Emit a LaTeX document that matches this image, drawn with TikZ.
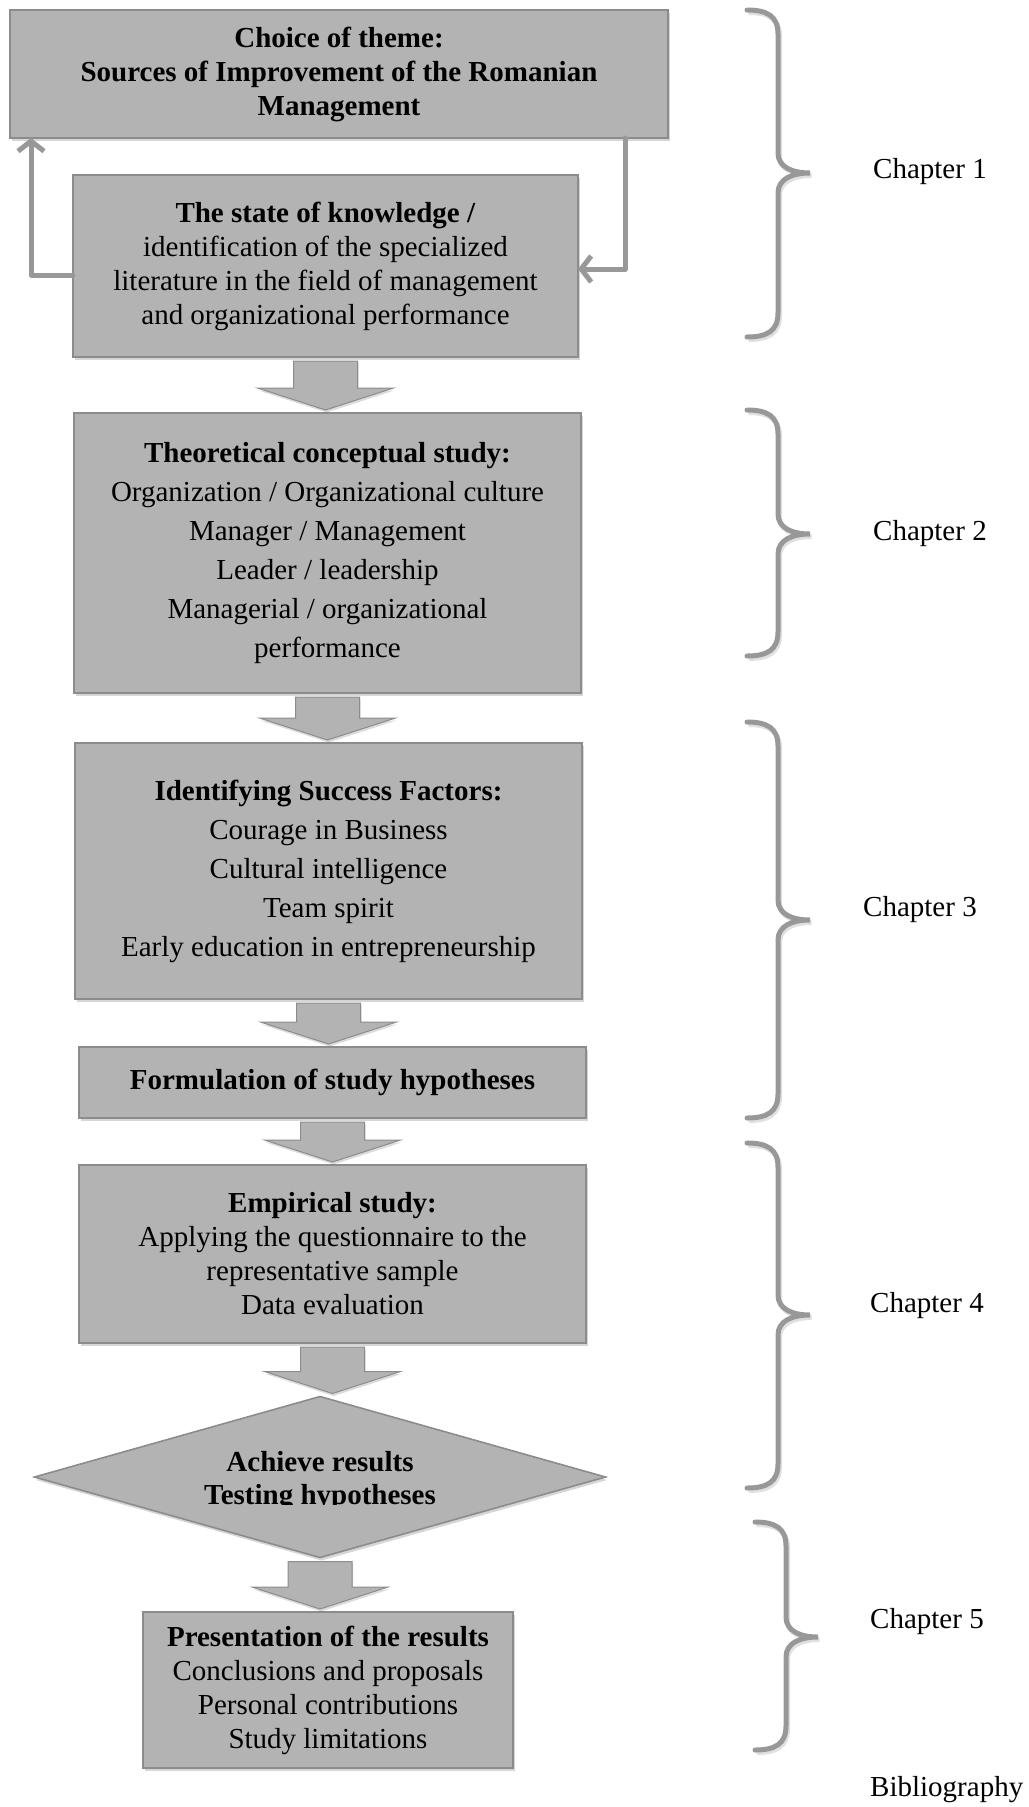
\documentclass[tikz,border=0pt]{standalone}
\usepackage{fontspec}
\setmainfont{Liberation Serif}
\usetikzlibrary{calc,arrows.meta,shapes.geometric,shadows}
\definecolor{stagefill}{RGB}{179,179,179}
\definecolor{stageline}{RGB}{140,140,140}
\definecolor{bracegray}{RGB}{152,152,152}
\tikzset{
  stagebox/.style={rectangle, draw=stageline, fill=stagefill, line width=1.6pt,
                   inner sep=0pt, outer sep=0pt, align=center,
                   font=\fontsize{29}{34}\selectfont,
                   drop shadow={shadow xshift=1.5pt, shadow yshift=-3pt,
                                fill=black, opacity=0.16}},
  stageboxwide/.style={stagebox, font=\fontsize{29}{39}\selectfont},
  stagediamond/.style={stagebox, diamond, aspect=3.5},
  stagetext/.style={inner sep=0pt, align=center, font=\fontsize{29}{33}\selectfont},
  flowarrow/.style={draw=stageline, fill=stagefill, line width=1pt, line join=miter,
                    drop shadow={shadow xshift=1pt, shadow yshift=-2.5pt,
                                 fill=black, opacity=0.14},
                    to path={let \p1=(\tikztostart.south), \p2=(\tikztotarget.north) in
                      (\x1-32pt,\y1-4pt) -- (\x1+32pt,\y1-4pt) -- (\x1+32pt,\y2+25pt)
                      -- (\x1+68pt,\y2+25pt) -- (\x1,\y2+3pt) -- (\x1-68pt,\y2+25pt)
                      -- (\x1-32pt,\y2+25pt) -- cycle}},
  loopline/.style={draw=bracegray, line width=5pt, line cap=round, line join=round,
                   -{Straight Barb[length=10pt,width=26pt]}},
  bracestroke/.style={draw=bracegray, line width=5pt, line cap=round,
                      preaction={draw=black!12, line width=5pt,
                                 transform canvas={shift={(1.5pt,-2.5pt)}}}},
  chapter/.style={anchor=west, inner sep=0pt, font=\fontsize{29}{34}\selectfont},
}

\begin{document}
\begin{tikzpicture}[x=1pt, y=-1pt]
    \useasboundingbox (0,0) rectangle (1028,1807);
    \node[stagebox, minimum width=658, minimum height=128] (theme) at (339,74)
        {\textbf{Choice of theme:}\\\textbf{Sources of Improvement of the Romanian}\\\textbf{Management}};
    \node[stagebox, minimum width=505, minimum height=182] (know) at (325.5,266)
        {\textbf{The state of knowledge /}\\identification of the specialized\\literature in the field of management\\and organizational performance};
    \node[stageboxwide, minimum width=507, minimum height=280] (theory) at (327.5,553)
        {\textbf{Theoretical conceptual study:}\\Organization / Organizational culture\\Manager / Management\\Leader / leadership\\Managerial / organizational\\performance};
    \node[stageboxwide, minimum width=507, minimum height=256] (factors) at (328.5,871)
        {\textbf{Identifying Success Factors:}\\Courage in Business\\Cultural intelligence\\Team spirit\\Early education in entrepreneurship};
    \node[stagebox, minimum width=507, minimum height=71] (hypo) at (332.5,1082.5)
        {\textbf{Formulation of study hypotheses}};
    \node[stagebox, minimum width=507, minimum height=178] (empir) at (332.5,1254)
        {\textbf{Empirical study:}\\Applying the questionnaire to the\\representative sample\\Data evaluation};
    \node[stagediamond, minimum width=571, minimum height=161] (results) at (320,1477) {};
    \begin{scope}
        \clip ($(results.west)+(0,-90)$) rectangle ($(results.east)+(0,27)$);
        \node[stagetext] (resultstext) at ($(results.center)+(0,4)$)
            {\textbf{Achieve results}\\\textbf{Testing hypotheses}};
    \end{scope}
    \node[stagebox, minimum width=370, minimum height=156] (present) at (328,1690)
        {\textbf{Presentation of the results}\\Conclusions and proposals\\Personal contributions\\Study limitations};
    \path[flowarrow] (know) to (theory);
    \path[flowarrow] (theory) to (factors);
    \path[flowarrow] (factors) to (hypo);
    \path[flowarrow] (hypo) to (empir);
    \path[flowarrow] (empir) to (results);
    \path[flowarrow] (results) to (present);
    \draw[loopline] ($(know.west)+(0,9)$) -| ($(theme.south west)+(21,0)$);
    \draw[loopline] ($(theme.south east)+(-43,0)$) |- ($(know.east)+(0,3)$);
    \foreach \bx/\bt/\bm/\bb in {747/10/173/337, 747/410/534/656, 747/722/920/1118,
                                 747/1143/1315/1488, 755/1522/1637/1750}
        \draw[bracestroke] (\bx,\bt) .. controls (\bx+20,\bt) and (\bx+31,\bt+6) .. (\bx+31,\bt+24)
            -- (\bx+31,\bm-20) .. controls (\bx+31,\bm-6) and (\bx+45,\bm) .. (\bx+63,\bm)
            .. controls (\bx+45,\bm) and (\bx+31,\bm+6) .. (\bx+31,\bm+20)
            -- (\bx+31,\bb-24) .. controls (\bx+31,\bb-6) and (\bx+20,\bb) .. (\bx,\bb);
    \node[chapter] (ch1) at (873,172)  {Chapter 1};
    \node[chapter] (ch2) at (873,534)  {Chapter 2};
    \node[chapter] (ch3) at (863,910)  {Chapter 3};
    \node[chapter] (ch4) at (870,1306) {Chapter 4};
    \node[chapter] (ch5) at (870,1622) {Chapter 5};
    \node[chapter] (biblio) at (870,1790) {Bibliography};
\end{tikzpicture}
\end{document}
